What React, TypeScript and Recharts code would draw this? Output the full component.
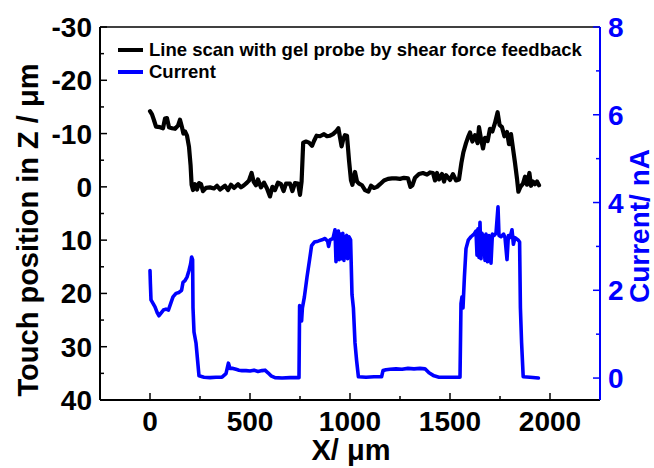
import { LineChart, Line, XAxis, YAxis, ReferenceLine, Legend } from 'recharts';

document.body.style.margin = '0';

const FONT = '"Liberation Sans", Arial, sans-serif';
const BLUE = '#0000ff';

// shear force line scan: X (µm) and touch position Z (µm)
const zX = [
  0, 10, 20, 30, 50, 65, 75, 85, 95, 110, 125, 140, 150, 160, 167, 175, 185, 195, 203, 208,
  215, 225, 235, 245, 255, 265, 280, 300, 320, 335, 350, 375, 390, 405, 420, 440, 455, 470, 485, 495,
  508, 518, 530, 540, 555, 570, 585, 600, 612, 625, 640, 655, 668, 680, 700, 712, 725, 740, 750, 758,
  766, 780, 795, 810, 820, 833, 850, 870, 885, 900, 915, 930, 942, 950, 958, 966, 975, 985, 995, 1005,
  1012, 1025, 1035, 1045, 1060, 1075, 1092, 1105, 1120, 1135, 1150, 1170, 1190, 1210, 1230, 1250, 1270, 1290, 1302, 1312,
  1325, 1345, 1365, 1385, 1400, 1415, 1425, 1435, 1445, 1460, 1470, 1480, 1500, 1515, 1530, 1545, 1557, 1567, 1580, 1592,
  1600, 1612, 1625, 1638, 1645, 1655, 1665, 1675, 1688, 1700, 1712, 1725, 1738, 1748, 1760, 1772, 1785, 1795, 1805, 1815,
  1825, 1835, 1842, 1852, 1865, 1875, 1885, 1897, 1905, 1915, 1925, 1935, 1945,
];
const zVal = [
  -14.2, -13.6, -12.5, -11.3, -11.2, -11.0, -12.8, -12.9, -11.2, -11.0, -10.9, -11.5, -12.6, -11.2, -10.0, -10.4, -9.6, -7.5, -4, -0.4,
  0.6, -0.5, 0.5, -0.7, -0.5, 0.8, 0.2, 0.1, 0.3, -0.2, 0.5, -0.2, 0.6, -0.4, 0.2, -0.5, 0.1, -0.3, -0.8, -1.2,
  -2.6, -1.0, -0.3, -1.4, 0.1, -0.8, 0.3, 1.8, 0.0, 0.6, -0.8, -0.5, 0.8, -0.6, -0.6, 0.8, -0.7, -0.6, 1.5, -1,
  -8.3, -8.5, -8.3, -7.7, -8.6, -9.6, -9.5, -9.9, -9.5, -9.6, -9.9, -10.4, -11.0, -9.3, -7.6, -8.9, -9.7, -9.6, -5, -1.2,
  -0.4, -2.8, -1.0, -0.6, -0.3, 0.6, 0.9, -0.2, 0.2, 0.0, -0.5, -1.2, -1.5, -1.6, -1.6, -1.5, -1.7, -1.6, 0.0, -0.3,
  -1.7, -2.4, -2.6, -2.3, -2.7, -2.6, -1.2, -2.6, -1.4, -2.4, -1.0, -2.2, -1.3, -2.4, -1.2, -1.4, -4.5, -6.5, -8.2, -9.5,
  -10.2, -8.5, -9.7, -8.2, -11.2, -9.0, -7.2, -9.2, -8.6, -10.9, -10.4, -12.0, -14.0, -11.6, -11.2, -9.5, -10.3, -8.0, -9.9, -7.2,
  -4.5, -1.5, 0.9, 0.0, -0.6, -1.9, -0.4, -2.6, -0.2, -1.0, -0.5, -1.0, -0.3,
];

// probe current: X (µm) and current (nA)
const iX = [
  0, 2, 5, 15, 25, 35, 45, 55, 67, 80, 92, 105, 115, 130, 145, 158, 165, 175, 185, 195,
  203, 208, 213, 215, 220, 230, 238, 245, 270, 300, 330, 360, 380, 392, 400, 415, 430, 445, 460, 480,
  500, 520, 540, 560, 575, 590, 605, 625, 660, 700, 745, 748, 753, 758, 762, 772, 785, 798, 808, 822,
  840, 860, 875, 888, 893, 900, 915, 925, 930, 935, 942, 946, 952, 958, 964, 970, 975, 983, 988, 995,
  1003, 1010, 1017, 1025, 1033, 1042, 1080, 1120, 1158, 1165, 1180, 1200, 1230, 1260, 1290, 1320, 1350, 1375, 1395, 1420,
  1445, 1500, 1550, 1555, 1560, 1565, 1572, 1580, 1592, 1605, 1620, 1630, 1635, 1640, 1645, 1650, 1655, 1660, 1668, 1675,
  1680, 1688, 1695, 1705, 1712, 1720, 1730, 1740, 1745, 1755, 1768, 1775, 1785, 1792, 1800, 1810, 1817, 1825, 1840, 1848,
  1852, 1858, 1866, 1900, 1942,
];
const iVal = [
  2.45, 2.15, 1.78, 1.7, 1.62, 1.5, 1.42, 1.48, 1.55, 1.57, 1.55, 1.72, 1.85, 1.93, 1.95, 2.0, 2.18, 2.22, 2.3, 2.45,
  2.6, 2.76, 2.7, 1.6, 1.05, 0.8, 0.4, 0.05, 0.02, 0.01, 0.02, 0.02, 0.1, 0.34, 0.22, 0.22, 0.2, 0.18, 0.17, 0.17,
  0.16, 0.18, 0.15, 0.17, 0.18, 0.12, 0.05, 0.01, 0.0, 0.01, 0.01, 1.65, 1.45, 1.3, 1.6, 1.85, 2.3, 2.7, 3.02, 3.1,
  3.12, 3.15, 3.18, 3.12, 3.0, 3.15, 3.18, 3.38, 2.65, 3.2, 3.35, 2.7, 3.28, 2.72, 3.3, 2.68, 3.2, 3.25, 2.72, 3.22,
  3.15, 1.9, 1.6, 0.8, 0.4, 0.03, 0.02, 0.03, 0.03, 0.17, 0.19, 0.2, 0.21, 0.2, 0.22, 0.21, 0.22, 0.21, 0.12, 0.05,
  0.02, 0.02, 0.02, 1.7, 1.85, 1.6, 2.3, 2.95, 3.15, 3.22, 3.28, 3.35, 2.8, 3.4, 2.75, 3.55, 2.72, 3.3, 3.2, 2.68,
  3.28, 2.65, 3.25, 2.62, 3.28, 3.25, 3.3, 3.9, 3.25, 3.22, 3.28, 3.2, 2.7, 3.25, 3.2, 3.38, 3.05, 3.2, 3.15, 3.1,
  1.6, 0.8, 0.03, 0.02, 0.0,
];

const xTicks = [0, 250, 500, 750, 1000, 1250, 1500, 1750, 2000];
const zTicks = [-30, -25, -20, -15, -10, -5, 0, 5, 10, 15, 20, 25, 30, 35, 40];
const iTicks = [0, 1, 2, 3, 4, 5, 6, 7, 8];
const seriesOrder = ['z', 'current'];

const zData = zX.map((x, i) => ({ x, z: zVal[i] }));
const iData = iX.map((x, i) => ({ x, current: iVal[i] }));

const labelStyle = { fontFamily: FONT, fontWeight: 700, fontSize: 28 };

const XTick = ({ x, y, payload }: any) => {
  const major = payload.value % 500 === 0;
  return (
    <g>
      <line x1={x} x2={x} y1={y} y2={y - (major ? 7 : 4)} stroke="#000" strokeWidth={1.5} />
      {major && (
        <text x={x} y={y + 31} textAnchor="middle" fill="#000" style={labelStyle}>
          {payload.value}
        </text>
      )}
    </g>
  );
};

const ZTick = ({ x, y, payload }: any) => {
  const major = payload.value % 10 === 0;
  return (
    <g>
      <line x1={x} x2={x + (major ? 7 : 4)} y1={y} y2={y} stroke="#000" strokeWidth={1.5} />
      {major && (
        <text x={x - 8} y={y + 10} textAnchor="end" fill="#000" style={labelStyle}>
          {payload.value}
        </text>
      )}
    </g>
  );
};

const ITick = ({ x, y, payload }: any) => {
  const major = payload.value % 2 === 0;
  return (
    <g>
      <line x1={x} x2={x - (major ? 7 : 4)} y1={y} y2={y} stroke={BLUE} strokeWidth={1.5} />
      {major && (
        <text x={x + 8} y={y + 10} textAnchor="start" fill={BLUE} style={labelStyle}>
          {payload.value}
        </text>
      )}
    </g>
  );
};

const renderLegend = ({ payload }: any) => {
  const items = [...(payload || [])].sort(
    (a: any, b: any) => seriesOrder.indexOf(a.dataKey) - seriesOrder.indexOf(b.dataKey)
  );
  return (
    <div style={{ fontFamily: FONT, fontWeight: 700, fontSize: 18.5, color: '#000' }}>
      {items.map((entry: any) => (
        <div key={entry.value} style={{ display: 'flex', alignItems: 'center', height: 22 }}>
          <span style={{ display: 'inline-block', width: 25, height: 3.5, background: entry.color, marginRight: 6 }} />
          <span>{entry.value}</span>
        </div>
      ))}
    </div>
  );
};

export default function App() {
  return (
    <LineChart width={654} height={468} margin={{ top: 27, right: 0, bottom: 0, left: 0 }}>
      <XAxis
        dataKey="x"
        type="number"
        domain={[-250, 2250]}
        ticks={xTicks}
        interval={0}
        allowDataOverflow
        height={68}
        tickSize={0}
        tickMargin={0}
        tick={<XTick />}
        tickLine={false}
        axisLine={{ stroke: '#000', strokeWidth: 2 }}
      />
      <YAxis
        yAxisId="left"
        orientation="left"
        type="number"
        domain={[-30, 40]}
        reversed
        ticks={zTicks}
        interval={0}
        allowDataOverflow
        width={100}
        tickSize={0}
        tickMargin={0}
        tick={<ZTick />}
        tickLine={false}
        axisLine={{ stroke: '#000', strokeWidth: 2 }}
      />
      <YAxis
        yAxisId="right"
        orientation="right"
        type="number"
        domain={[-0.5, 8]}
        ticks={iTicks}
        interval={0}
        allowDataOverflow
        width={54}
        tickSize={0}
        tickMargin={0}
        tick={<ITick />}
        tickLine={false}
        axisLine={{ stroke: BLUE, strokeWidth: 2 }}
      />
      <ReferenceLine yAxisId="left" y={-30} stroke="#000" strokeWidth={1.5} />
      <Legend
        content={renderLegend}
        layout="horizontal"
        verticalAlign="middle"
        align="center"
        wrapperStyle={{ top: 39, left: 118, width: 'auto' }}
      />
      <Line
        yAxisId="left"
        data={zData}
        dataKey="z"
        name="Line scan with gel probe by shear force feedback"
        stroke="#000"
        strokeWidth={4.2}
        strokeLinejoin="round"
        strokeLinecap="round"
        dot={false}
        isAnimationActive={false}
      />
      <Line
        yAxisId="right"
        data={iData}
        dataKey="current"
        name="Current"
        stroke={BLUE}
        strokeWidth={3.6}
        strokeLinejoin="round"
        strokeLinecap="round"
        dot={false}
        isAnimationActive={false}
      />
      <text
        x={28}
        y={230}
        transform="rotate(-90 28 230)"
        textAnchor="middle"
        dominantBaseline="central"
        fill="#000"
        style={{ fontFamily: FONT, fontWeight: 700, fontSize: 29 }}
      >
        Touch position in Z / μm
      </text>
      <text
        x={639}
        y={226}
        transform="rotate(-90 639 226)"
        textAnchor="middle"
        dominantBaseline="central"
        fill={BLUE}
        style={{ fontFamily: FONT, fontWeight: 700, fontSize: 28 }}
      >
        Current/ nA
      </text>
      <text
        x={351}
        y={460}
        textAnchor="middle"
        fill="#000"
        style={{ fontFamily: FONT, fontWeight: 700, fontSize: 29 }}
      >
        X/ μm
      </text>
    </LineChart>
  );
}
